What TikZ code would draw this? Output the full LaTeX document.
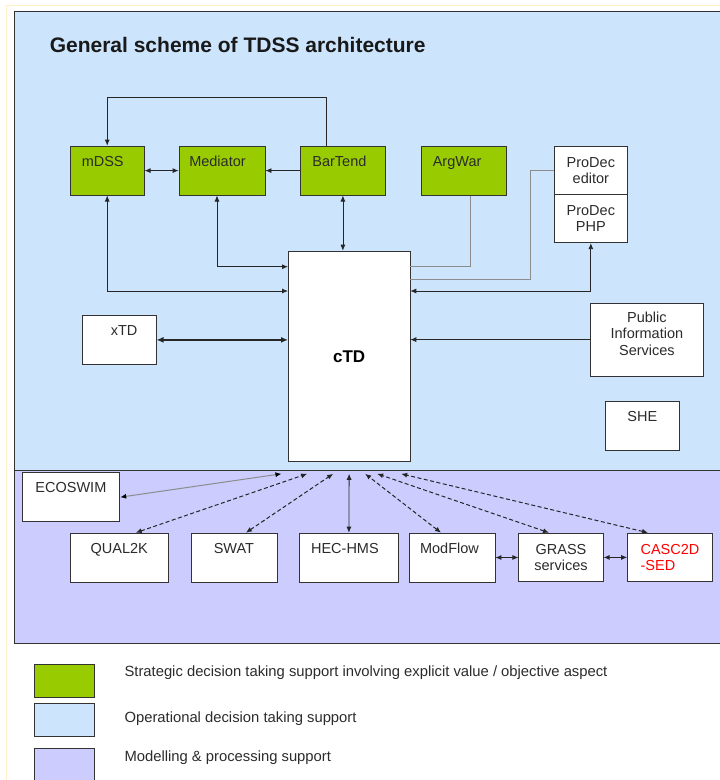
\documentclass[tikz,border=0pt]{standalone}
\usepackage{fontspec}
\setmainfont{Liberation Sans}
\usetikzlibrary{positioning,arrows.meta}
\definecolor{stratgreen}{HTML}{99CC00}
\definecolor{operblue}{HTML}{CCE4FC}
\definecolor{modpurple}{HTML}{CCCCFF}
\definecolor{boxtext}{HTML}{2B2B2B}
\definecolor{pageedge}{HTML}{FFF0C8}

\begin{document}
\begin{tikzpicture}[x=1pt, y=-1pt, >={Latex[length=6pt,width=5pt]},
        every node/.style={font=\fontsize{14.5}{16.5}\selectfont, text=boxtext},
        box/.style={draw=black!80, fill=white, line width=0.8pt, inner sep=0pt, anchor=north west, align=center},
        toptext/.style={text height=20pt, text depth=29pt},
        legbox/.style={draw=black!80, line width=0.8pt, anchor=north west, minimum width=59.7pt, minimum height=32.4pt, inner sep=0pt},
        legtext/.style={anchor=west, font=\fontsize{14.8}{16.5}\selectfont},
        link/.style={draw=black!85, line width=0.8pt},
        model/.style={link, dash pattern=on 4pt off 2.5pt, line width=1pt},
        faint/.style={draw=black!45, line width=0.8pt}]
        \useasboundingbox (0,0) rectangle (720,780);
        \draw[pageedge, line width=1pt] (6,5) rectangle (730,790);

        % Regions
        \draw[fill=operblue, draw=black!80, line width=1pt] (14.7,11) rectangle (730,470.7);
        \draw[fill=modpurple, draw=black!80, line width=1pt] (14.7,470.7) rectangle (730,643.3);
        \node[anchor=base west, inner sep=0pt, font=\fontsize{21}{24}\selectfont\bfseries, text=black!90] (title) at (49.6,52.3) {General scheme of TDSS architecture};

        % Strategic support
        \node[box, fill=stratgreen, toptext, minimum width=74pt] (mdss) at (69.8,145.7) {mDSS\hspace*{9pt}};
        \node[box, fill=stratgreen, toptext, minimum width=86pt] (mediator) at (178.6,145.7) {Mediator\hspace*{9pt}};
        \node[box, fill=stratgreen, toptext, minimum width=85.4pt] (bartend) at (299.8,145.7) {BarTend\hspace*{7pt}};
        \node[box, fill=stratgreen, toptext, minimum width=85.4pt] (argwar) at (421,145.7) {ArgWar\hspace*{14pt}};

        % Operational support
        \node[box, minimum width=73.5pt, minimum height=48.6pt] (prodeced) at (553.7,145.7) {ProDec\\editor};
        \node[box, minimum width=73.5pt, minimum height=48pt] (prodecphp) at (553.7,194.3) {ProDec\\PHP};
        \node[box, minimum width=121.5pt, minimum height=210.3pt, font=\fontsize{17}{19}\selectfont\bfseries, text=black] (ctd) at (288,250.7) {cTD};
        \node[box, toptext, minimum width=74pt] (xtd) at (81.7,315) {\hspace*{10pt}xTD};
        \node[box, minimum width=113pt, minimum height=73pt] (pis) at (590,302.7) {Public\\Information\\Services\\[-4pt]};
        \node[box, toptext, minimum width=74pt] (she) at (605,400.7) {SHE};

        % Modelling and processing
        \node[box, toptext, minimum width=97.8pt] (ecoswim) at (21.6,472.3) {ECOSWIM};
        \node[box, toptext, minimum width=98.2pt] (qual) at (69.8,532.7) {QUAL2K};
        \node[box, toptext, minimum width=86pt] (swat) at (190.5,532.7) {SWAT};
        \node[box, toptext, minimum width=98.2pt] (hechms) at (299.4,532.7) {HEC-HMS\hspace*{8pt}};
        \node[box, toptext, minimum width=86pt] (modflow) at (408.6,532.7) {ModFlow\hspace*{5pt}};
        \node[box, minimum width=84.4pt, minimum height=48.6pt] (grass) at (518.4,532.7) {GRASS\\services};
        \node[box, minimum width=84.8pt, minimum height=48.6pt, align=left, text=red] (casc) at (627.2,532.7) {CASC2D\\-SED};

        % Links above cTD
        \draw[link, ->] ([xshift=-17]bartend.north) -- ++(0,-48.4) -| (mdss.north);
        \draw[link, <->] (mdss) -- (mediator);
        \draw[link, ->] (bartend) -- (mediator);
        \draw[link, <->] (bartend.south) -- (bartend.south |- ctd.north);
        \draw[link, <->] (mdss.south) |- ([yshift=-40.3]ctd.north west);
        \draw[link, <->] ([xshift=-5]mediator.south) |- ([yshift=-16]ctd.north west);
        \draw[faint] ([xshift=6.3]argwar.south) |- ([yshift=-16]ctd.north east);
        \draw[faint] (prodeced.west) -- ++(-23,0) |- ([yshift=-28.3]ctd.north east);
        \draw[link, <->] (prodecphp.south) |- ([yshift=-40.3]ctd.north east);
        \draw[link, <->, line width=1.6pt, >={Latex[length=7pt,width=6pt]}] (xtd) -- (xtd -| ctd.west);
        \draw[link, ->] (pis) -- (pis -| ctd.east);

        % Links below cTD
        \draw[draw=black!45, line width=1pt, {Latex[length=6pt,width=5pt,black]}-{Latex[length=6pt,width=5pt,black]}] (ecoswim.east) -- ([xshift=-67.7,yshift=-12]ctd.south);
        \draw[model, <->] ([xshift=16.5]qual.north) -- ([xshift=-42,yshift=-12]ctd.south);
        \draw[model, <->] ([xshift=12]swat.north) -- ([xshift=-16,yshift=-12]ctd.south);
        \draw[link, <->] (hechms.north) -- ([yshift=-12]ctd.south);
        \draw[model, <->] ([xshift=-11]modflow.north) -- ([xshift=16,yshift=-12]ctd.south);
        \draw[model, <->] ([xshift=-12]grass.north) -- ([xshift=28,yshift=-12]ctd.south);
        \draw[model, <->] ([xshift=-22]casc.north) -- ([xshift=52,yshift=-12]ctd.south);
        \draw[link, <->] (modflow) -- (grass);
        \draw[link, <->] (grass) -- (casc);

        % Legend
        \node[legbox, fill=stratgreen] (legstrat) at (34.4,664.3) {};
        \node[legbox, fill=operblue] (legoper) at (34.4,703.3) {};
        \node[legbox, fill=modpurple] (legmod) at (34.4,748.3) {};
        \node[legtext] (txtstrat) at (121,673) {Strategic decision taking support involving explicit value / objective aspect};
        \node[legtext] (txtoper) at (121,719) {Operational decision taking support};
        \node[legtext] (txtmod) at (121,758) {Modelling \& processing support};
    \end{tikzpicture}
\end{document}
